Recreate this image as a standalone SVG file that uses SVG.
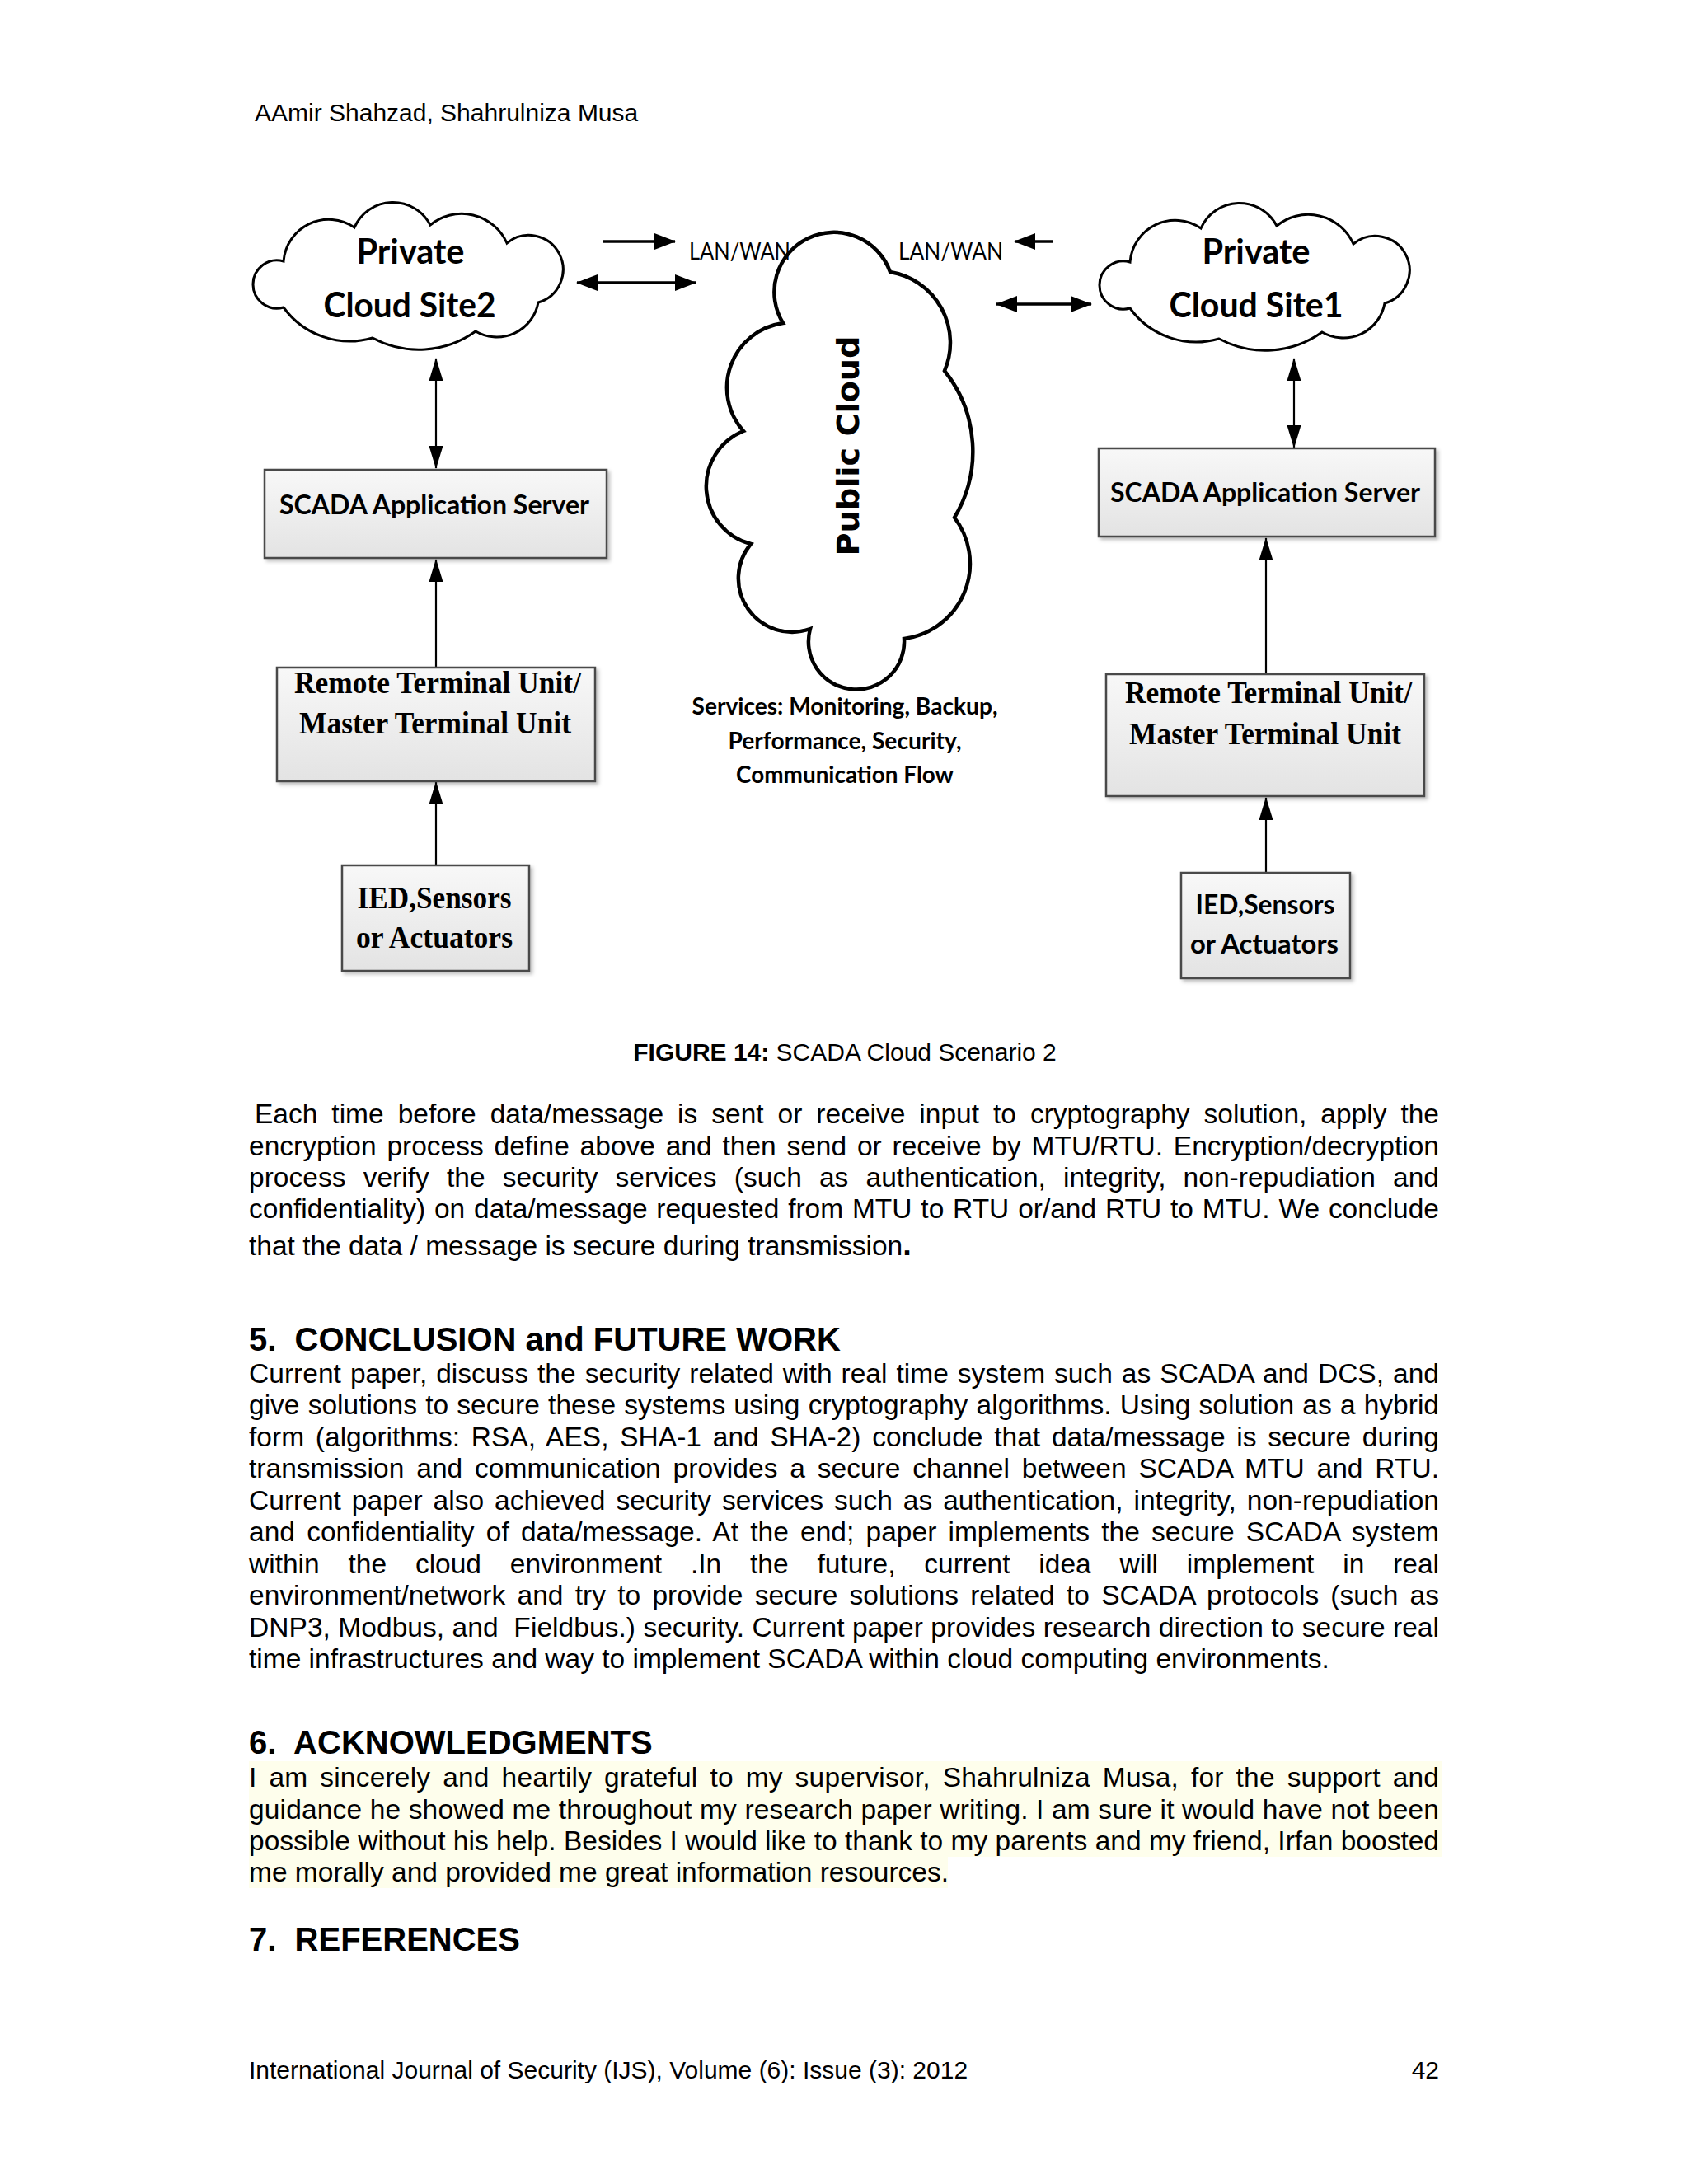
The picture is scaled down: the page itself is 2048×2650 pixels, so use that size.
<svg xmlns="http://www.w3.org/2000/svg" width="2048" height="2650" viewBox="0 0 2048 2650">
<defs>
<style>
.body{font-family:"Liberation Sans",Arial,sans-serif;font-size:33.5px;fill:#000}
.head{font-family:"Liberation Sans",Arial,sans-serif;font-size:40px;font-weight:bold;fill:#000;white-space:pre}
.small{font-family:"Liberation Sans",Arial,sans-serif;font-size:30px;fill:#000}
.cal{font-family:Lato,"Open Sans",sans-serif;font-weight:bold;fill:#000}
.calr{font-family:Lato,"Open Sans",sans-serif;font-weight:normal;fill:#000}
.tms{font-family:"Liberation Serif","Times New Roman",serif;font-weight:bold;fill:#000}
.box{fill:url(#g);stroke:#4a4a4a;stroke-width:2.5}
.cloud{fill:#fff;stroke:#000;stroke-width:3}
.pcloud{fill:#fff;stroke:#000;stroke-width:4.5}
.thick{stroke:#000;stroke-width:3.5;fill:none}
.thin{stroke:#000;stroke-width:2.2;fill:none}
</style>
<linearGradient id="g" x1="0" y1="0" x2="0" y2="1"><stop offset="0" stop-color="#f8f8f8"/><stop offset="1" stop-color="#e3e3e3"/></linearGradient>
<filter id="sh" x="-5%" y="-5%" width="115%" height="125%"><feDropShadow dx="3" dy="3" stdDeviation="2" flood-color="#000" flood-opacity="0.25"/></filter>
<marker id="hb" markerUnits="userSpaceOnUse" viewBox="0 0 26 20" markerWidth="26" markerHeight="20" refX="25" refY="10" orient="auto-start-reverse"><path d="M0,0 L26,10 L0,20 z" fill="#000"/></marker>
<marker id="hs" markerUnits="userSpaceOnUse" viewBox="0 0 28 17" markerWidth="28" markerHeight="17" refX="27" refY="8.5" orient="auto-start-reverse"><path d="M0,0 L28,8.5 L0,17 z" fill="#000"/></marker>
</defs>
<rect width="2048" height="2650" fill="#fff"/>

<text class="small" x="309" y="147">AAmir Shahzad, Shahrulniza Musa</text>

<g id="connectors">
<line class="thick" x1="731" y1="293" x2="819" y2="293" marker-end="url(#hb)"/>
<line class="thick" x1="700" y1="343" x2="844" y2="343" marker-start="url(#hb)" marker-end="url(#hb)"/>
<line class="thick" x1="1277" y1="293" x2="1231" y2="293" marker-end="url(#hb)"/>
<line class="thick" x1="1209" y1="369" x2="1324" y2="369" marker-start="url(#hb)" marker-end="url(#hb)"/>
<line class="thin" x1="529" y1="435" x2="529" y2="568" marker-start="url(#hs)" marker-end="url(#hs)"/>
<line class="thin" x1="1570" y1="435" x2="1570" y2="543" marker-start="url(#hs)" marker-end="url(#hs)"/>
<line class="thin" x1="529" y1="810" x2="529" y2="679" marker-end="url(#hs)"/>
<line class="thin" x1="529" y1="1050" x2="529" y2="949" marker-end="url(#hs)"/>
<line class="thin" x1="1536" y1="818" x2="1536" y2="653" marker-end="url(#hs)"/>
<line class="thin" x1="1536" y1="1059" x2="1536" y2="968" marker-end="url(#hs)"/>
</g>

<g id="private-cloud-site2">
<path class="cloud" d="M344,317 A55,55 0 0 1 430,276 A51,51 0 0 1 522,273 A60,60 0 0 1 615,295 A41.6,41.6 0 1 1 653,367 A51,51 0 0 1 577,402 A118,118 0 0 1 452,410 A99,99 0 0 1 344,373 A29.1,29.1 0 1 1 344,317 Z"/>
<text class="cal" x="498" y="320" font-size="42" text-anchor="middle" textLength="131" lengthAdjust="spacingAndGlyphs">Private</text>
<text class="cal" x="497" y="385" font-size="42" text-anchor="middle" textLength="209" lengthAdjust="spacingAndGlyphs">Cloud Site2</text>
</g>

<g id="private-cloud-site1">
<path class="cloud" transform="translate(1027,1)" d="M344,317 A55,55 0 0 1 430,276 A51,51 0 0 1 522,273 A60,60 0 0 1 615,295 A41.6,41.6 0 1 1 653,367 A51,51 0 0 1 577,402 A118,118 0 0 1 452,410 A99,99 0 0 1 344,373 A29.1,29.1 0 1 1 344,317 Z"/>
<text class="cal" x="1524" y="320" font-size="42" text-anchor="middle" textLength="131" lengthAdjust="spacingAndGlyphs">Private</text>
<text class="cal" x="1524" y="385" font-size="42" text-anchor="middle" textLength="211" lengthAdjust="spacingAndGlyphs">Cloud Site1</text>
</g>

<g id="public-cloud">
<path class="pcloud" d="M950,392 A72.4,72.4 0 1 1 1080,330 A87,87 0 0 1 1146,450 A156,156 0 0 1 1158,628 A91.9,91.9 0 0 1 1097,775 A58.1,58.1 0 1 1 983,763 A65.1,65.1 0 0 1 911,660 A72.3,72.3 0 0 1 902,523 A79.1,79.1 0 0 1 950,392 Z"/>
<text transform="translate(1042,541) rotate(-90)" x="0" y="0" text-anchor="middle" font-family="'DejaVu Sans',Verdana,sans-serif" font-weight="bold" font-size="38" textLength="267" lengthAdjust="spacingAndGlyphs">Public Cloud</text>
</g>

<g id="lan-wan-left">
<text class="calr" x="836" y="315" font-size="28" textLength="123" lengthAdjust="spacingAndGlyphs">LAN/WAN</text>
</g>
<g id="lan-wan-right">
<text class="calr" x="1090" y="315" font-size="28" textLength="127" lengthAdjust="spacingAndGlyphs">LAN/WAN</text>
</g>

<g id="services">
<text class="cal" x="1025" y="867" font-size="28" text-anchor="middle" textLength="371" lengthAdjust="spacingAndGlyphs">Services: Monitoring, Backup,</text>
<text class="cal" x="1025" y="909" font-size="28" text-anchor="middle" textLength="283" lengthAdjust="spacingAndGlyphs">Performance, Security,</text>
<text class="cal" x="1025" y="950" font-size="28" text-anchor="middle" textLength="264" lengthAdjust="spacingAndGlyphs">Communication Flow</text>
</g>

<g id="scada-left">
<rect class="box" filter="url(#sh)" x="321" y="570" width="415" height="107"/>
<text class="cal" x="527" y="624" font-size="32" text-anchor="middle" textLength="376" lengthAdjust="spacingAndGlyphs">SCADA Application Server</text>
</g>
<g id="rtu-left">
<rect class="box" filter="url(#sh)" x="336" y="810" width="386" height="138"/>
<text class="tms" x="531" y="841" font-size="37" text-anchor="middle" textLength="348" lengthAdjust="spacingAndGlyphs">Remote Terminal Unit/</text>
<text class="tms" x="528" y="890" font-size="37" text-anchor="middle" textLength="330" lengthAdjust="spacingAndGlyphs">Master Terminal Unit</text>
</g>
<g id="ied-left">
<rect class="box" filter="url(#sh)" x="415" y="1050" width="227" height="128"/>
<text class="tms" x="527" y="1102" font-size="37" text-anchor="middle" textLength="187" lengthAdjust="spacingAndGlyphs">IED,Sensors</text>
<text class="tms" x="527" y="1150" font-size="37" text-anchor="middle" textLength="190" lengthAdjust="spacingAndGlyphs">or Actuators</text>
</g>

<g id="scada-right">
<rect class="box" filter="url(#sh)" x="1333" y="544" width="408" height="107"/>
<text class="cal" x="1535" y="609" font-size="32" text-anchor="middle" textLength="376" lengthAdjust="spacingAndGlyphs">SCADA Application Server</text>
</g>
<g id="rtu-right">
<rect class="box" filter="url(#sh)" x="1342" y="818" width="386" height="148"/>
<text class="tms" x="1539" y="853" font-size="37" text-anchor="middle" textLength="348" lengthAdjust="spacingAndGlyphs">Remote Terminal Unit/</text>
<text class="tms" x="1535" y="903" font-size="37" text-anchor="middle" textLength="330" lengthAdjust="spacingAndGlyphs">Master Terminal Unit</text>
</g>
<g id="ied-right">
<rect class="box" filter="url(#sh)" x="1433" y="1059" width="205" height="128"/>
<text class="cal" x="1535" y="1109" font-size="32" text-anchor="middle" textLength="169" lengthAdjust="spacingAndGlyphs">IED,Sensors</text>
<text class="cal" x="1534" y="1157" font-size="32" text-anchor="middle" textLength="180" lengthAdjust="spacingAndGlyphs">or Actuators</text>
</g>

<text class="small" x="1025" y="1287" text-anchor="middle"><tspan font-weight="bold">FIGURE 14:</tspan> SCADA Cloud Scenario 2</text>

<g id="para1">
<text class="body" x="309" y="1363" style="word-spacing:7.7px" textLength="1437" lengthAdjust="spacing">Each time before data/message is sent or receive input to cryptography solution, apply the</text>
<text class="body" x="302" y="1402" style="word-spacing:3.5px" textLength="1444" lengthAdjust="spacing">encryption process define above and then send or receive by MTU/RTU. Encryption/decryption</text>
<text class="body" x="302" y="1440" style="word-spacing:11.8px" textLength="1444" lengthAdjust="spacing">process verify the security services (such as authentication, integrity, non-repudiation and</text>
<text class="body" x="302" y="1478" style="word-spacing:1.5px" textLength="1444" lengthAdjust="spacing">confidentiality) on data/message requested from MTU to RTU or/and RTU to MTU. We conclude</text>
<text class="body" x="302" y="1523">that the data / message is secure during transmission<tspan font-weight="bold" font-size="38">.</tspan></text>
</g>

<text class="head" x="302" y="1639">5.  CONCLUSION and FUTURE WORK</text>
<g id="para5">
<text class="body" x="302" y="1678" style="word-spacing:1.6px" textLength="1444" lengthAdjust="spacing">Current paper, discuss the security related with real time system such as SCADA and DCS, and</text>
<text class="body" x="302" y="1716" style="word-spacing:0.9px" textLength="1444" lengthAdjust="spacing">give solutions to secure these systems using cryptography algorithms. Using solution as a hybrid</text>
<text class="body" x="302" y="1755" style="word-spacing:4.4px" textLength="1444" lengthAdjust="spacing">form (algorithms: RSA, AES, SHA-1 and SHA-2) conclude that data/message is secure during</text>
<text class="body" x="302" y="1793" style="word-spacing:5.5px" textLength="1444" lengthAdjust="spacing">transmission and communication provides a secure channel between SCADA MTU and RTU.</text>
<text class="body" x="302" y="1832" style="word-spacing:3.6px" textLength="1444" lengthAdjust="spacing">Current paper also achieved security services such as authentication, integrity, non-repudiation</text>
<text class="body" x="302" y="1870" style="word-spacing:4.8px" textLength="1444" lengthAdjust="spacing">and confidentiality of data/message. At the end; paper implements the secure SCADA system</text>
<text class="body" x="302" y="1909" style="word-spacing:25.5px" textLength="1444" lengthAdjust="spacing">within the cloud environment .In the future, current idea will implement in real</text>
<text class="body" x="302" y="1947" style="word-spacing:4.9px" textLength="1444" lengthAdjust="spacing">environment/network and try to provide secure solutions related to SCADA protocols (such as</text>
<text class="body" x="302" y="1986" textLength="1444" lengthAdjust="spacing" style="white-space:pre">DNP3, Modbus, and  Fieldbus.) security. Current paper provides research direction to secure real</text>
<text class="body" x="302" y="2024">time infrastructures and way to implement SCADA within cloud computing environments.</text>
</g>

<text class="head" x="302" y="2128">6.  ACKNOWLEDGMENTS</text>
<g id="para6">
<rect x="302" y="2137" width="1448" height="116" fill="#fefeec"/>
<rect x="302" y="2253" width="848" height="38" fill="#fefeec"/>
<text class="body" x="302" y="2168" style="word-spacing:5.4px" textLength="1444" lengthAdjust="spacing">I am sincerely and heartily grateful to my supervisor, Shahrulniza Musa, for the support and</text>
<text class="body" x="302" y="2207" textLength="1444" lengthAdjust="spacing">guidance he showed me throughout my research paper writing. I am sure it would have not been</text>
<text class="body" x="302" y="2245" textLength="1444" lengthAdjust="spacing">possible without his help. Besides I would like to thank to my parents and my friend, Irfan boosted</text>
<text class="body" x="302" y="2283">me morally and provided me great information resources.</text>
</g>

<text class="head" x="302" y="2367">7.  REFERENCES</text>

<text class="small" x="302" y="2522">International Journal of Security (IJS), Volume (6): Issue (3): 2012</text>
<text class="small" x="1746" y="2522" text-anchor="end">42</text>
</svg>
